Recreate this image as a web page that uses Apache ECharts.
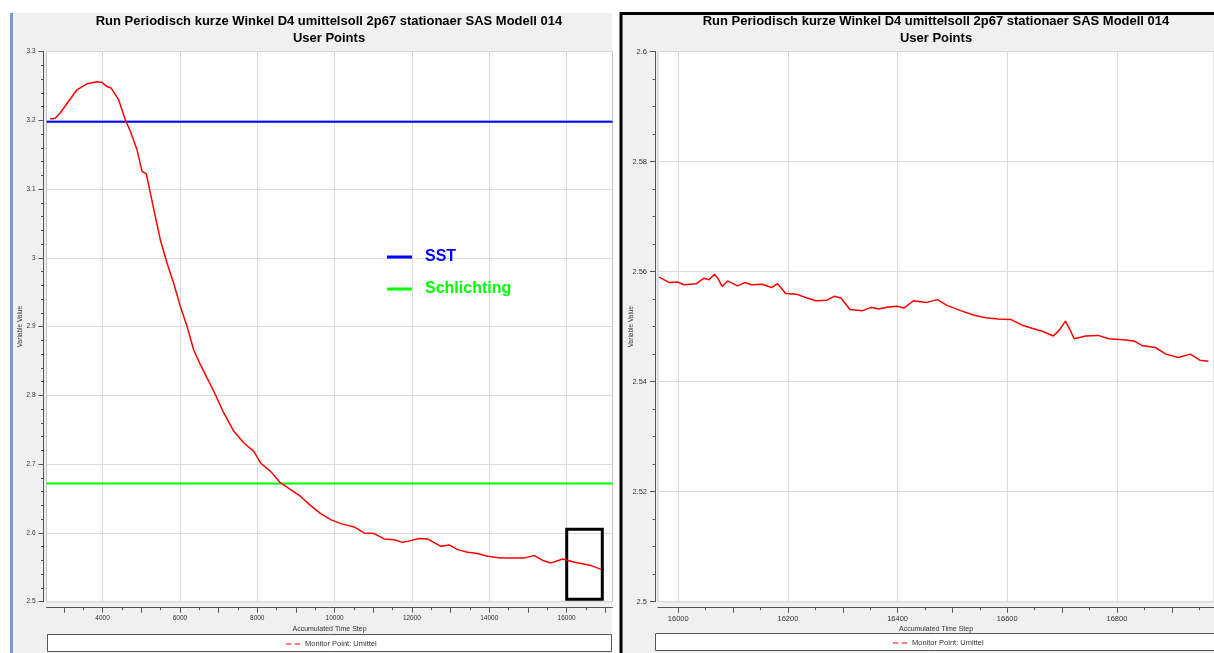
<!DOCTYPE html>
<html><head><meta charset="utf-8">
<script src="https://cdn.jsdelivr.net/npm/echarts@6/dist/echarts.min.js"></script>
<style>html,body{margin:0;padding:0;background:#fff}#c{width:1214px;height:653px}</style>
</head><body><div id="c"></div>
<script>
const chartTitle = 'Run Periodisch kurze Winkel D4 umittelsoll 2p67 stationaer SAS Modell 014';
const chartSubtitle = 'User Points';
const seriesName = 'Monitor Point: Umittel';
const xAxisName = 'Accumulated Time Step';
const yAxisName = 'Variable Value';

// left panel: full run
const leftTime = [2645,2775,2904,3119,3337,3596,3855,3984,4114,4218,4415,4588,4718,4891,5020,5132,5236,5365,5495,5668,5839,6013,6187,6357,6531,6705,6876,7135,7394,7653,7912,8085,8345,8604,8863,9122,9381,9640,9899,10158,10504,10763,11022,11281,11539,11757,11886,12187,12404,12749,12964,13181,13440,13699,13958,14303,14648,14907,15166,15383,15598,15901,16202,16376,16635,16894];
const leftValue = [3.2017,3.2030,3.2105,3.2273,3.2443,3.2530,3.2560,3.2550,3.2490,3.2470,3.2300,3.2007,3.1840,3.1570,3.1256,3.1220,3.0940,3.0600,3.0260,2.9920,2.9630,2.9290,2.9000,2.8660,2.8446,2.8250,2.8060,2.7744,2.7477,2.7308,2.7186,2.7017,2.6895,2.6727,2.6630,2.6530,2.6397,2.6280,2.6193,2.6135,2.6087,2.6000,2.5990,2.5913,2.5900,2.5863,2.5877,2.5920,2.5913,2.5805,2.5826,2.5757,2.5718,2.5700,2.5660,2.5637,2.5637,2.5637,2.5670,2.5600,2.5564,2.5622,2.5573,2.5554,2.5525,2.5470];

// right panel: zoomed end of run
const rightTime = [15965,15984,15999,16010,16033,16047,16056,16066,16072,16080,16090,16108,16121,16134,16153,16170,16181,16196,16215,16235,16251,16271,16284,16297,16313,16336,16352,16365,16381,16398,16412,16429,16453,16473,16489,16515,16538,16560,16583,16606,16626,16645,16665,16684,16696,16706,16714,16722,16743,16766,16785,16811,16831,16847,16870,16889,16912,16934,16951,16967];
const rightValue = [2.5590,2.5580,2.5581,2.5576,2.5578,2.5588,2.5585,2.5595,2.5588,2.5573,2.5583,2.5574,2.5580,2.5576,2.5577,2.5571,2.5578,2.5560,2.5559,2.5552,2.5547,2.5548,2.5555,2.5552,2.5531,2.5529,2.5535,2.5532,2.5535,2.5537,2.5534,2.5547,2.5544,2.5549,2.5539,2.5529,2.5521,2.5516,2.5514,2.5513,2.5503,2.5497,2.5491,2.5483,2.5495,2.5510,2.5495,2.5478,2.5483,2.5484,2.5478,2.5476,2.5474,2.5465,2.5462,2.5450,2.5444,2.5450,2.5439,2.5437];

const refNames = ['SST', 'Schlichting'];
const refValues = [3.198, 2.672];

const leftXRange = [2550, 17187];
const leftYRange = [2.5, 3.3];
const rightXRange = [15963, 16977];
const rightYRange = [2.5, 2.6];

const leftXLabels = [4000, 6000, 8000, 10000, 12000, 14000, 16000];
const leftXTicksMid = [3000, 5000, 7000, 9000, 11000, 13000, 15000, 17000];
const leftXTicksMinor = [3500, 4500, 5500, 6500, 7500, 8500, 9500, 10500, 11500, 12500, 13500, 14500, 15500, 16500];
const rightXLabels = [16000, 16200, 16400, 16600, 16800];
const rightXTicksMid = [16100, 16300, 16500, 16700, 16900];
const rightXTicksMinor = [16050, 16150, 16250, 16350, 16450, 16550, 16650, 16750, 16850, 16950];

const zoomBoxX = [16003, 16923];
const zoomBoxY = [2.5036, 2.6055];

const FONT = 'Liberation Sans';
const AX = '#555';
const GRIDC = '#dadada';
const DASH_ICON = 'path://M0,0 H5 V1 H0 Z M8,0 H13 V1 H8 Z';

function mainX(grid, range, labels, fs) {
  return {
    gridIndex: grid, type: 'value', position: 'bottom', min: range[0], max: range[1], offset: 6,
    axisLine: {show: true, lineStyle: {color: AX, width: 1}},
    axisTick: {show: true, customValues: labels, length: 5, lineStyle: {color: AX}},
    axisLabel: {customValues: labels, fontSize: fs, color: '#333', margin: 7, fontFamily: FONT, formatter: v => String(v)},
    splitLine: {show: true, lineStyle: {color: GRIDC, width: 1}},
    name: xAxisName, nameLocation: 'middle', nameGap: 18, nameMoveOverlap: false,
    nameTextStyle: {fontSize: 7, color: '#333', fontFamily: FONT}
  };
}
function tickX(grid, range, ticks, len) {
  return {
    gridIndex: grid, type: 'value', position: 'bottom', min: range[0], max: range[1], offset: 6,
    axisLine: {show: false}, axisLabel: {show: false}, splitLine: {show: false},
    axisTick: {show: true, customValues: ticks, length: len, lineStyle: {color: AX}}
  };
}
function mainY(grid, range, interval, minorSplit, fs, gap) {
  return {
    gridIndex: grid, type: 'value', min: range[0], max: range[1], interval: interval, offset: 3,
    axisLine: {show: true, lineStyle: {color: AX, width: 1}},
    axisTick: {show: true, length: 5, lineStyle: {color: AX}},
    minorTick: {show: true, splitNumber: minorSplit, length: 2.5, lineStyle: {color: AX}},
    axisLabel: {fontSize: fs, color: '#333', margin: 8, fontFamily: FONT},
    splitLine: {show: true, lineStyle: {color: GRIDC, width: 1}},
    name: yAxisName, nameLocation: 'middle', nameGap: gap, nameMoveOverlap: false,
    nameTextStyle: {fontSize: 6.5, color: '#333', fontFamily: FONT}
  };
}

const chart = echarts.init(document.getElementById('c'), null, {renderer: 'canvas'});
const refColors = ['#0000ff', '#00ff00'];

const option = {
  animation: false,
  backgroundColor: '#ffffff',
  graphic: [
    {type: 'rect', z: -10, shape: {x: 13, y: 13, width: 599, height: 645}, style: {fill: '#f0f0f0'}},
    {type: 'rect', z: -10, shape: {x: 10, y: 13, width: 3, height: 645}, style: {fill: '#7b9bd0'}},
    {type: 'rect', z: -10, shape: {x: 621, y: 13.5, width: 700, height: 700}, style: {fill: '#f0f0f0', stroke: '#000', lineWidth: 3}},
    {type: 'rect', z: 1, shape: {x: 47.5, y: 634.5, width: 564, height: 17}, style: {fill: '#fff', stroke: '#555', lineWidth: 1}},
    {type: 'rect', z: 1, shape: {x: 655.5, y: 633.5, width: 600, height: 17}, style: {fill: '#fff', stroke: '#555', lineWidth: 1}}
  ],
  title: [
    {text: chartTitle + '\n' + chartSubtitle, left: 329, top: 12.5, textAlign: 'center', padding: 0,
     textStyle: {fontSize: 13, fontWeight: 'bold', fontFamily: FONT, color: '#000', lineHeight: 17}},
    {text: chartTitle + '\n' + chartSubtitle, left: 936, top: 12.5, textAlign: 'center', padding: 0,
     textStyle: {fontSize: 13, fontWeight: 'bold', fontFamily: FONT, color: '#000', lineHeight: 17}}
  ],
  legend: [
    {data: refNames.map((n, i) => ({name: n, icon: 'rect', textStyle: {color: refColors[i]}})),
     orient: 'vertical', left: 387, top: 249, padding: 0, itemWidth: 25, itemHeight: 3, itemGap: 16,
     selectedMode: false,
     textStyle: {fontSize: 16, fontWeight: 'bold', fontFamily: FONT, padding: [0, 0, 0, 8]}},
    {data: [{name: seriesName, icon: DASH_ICON}], left: 286, top: 640, padding: 0, itemWidth: 14, itemHeight: 3, selectedMode: false,
     textStyle: {fontSize: 7.5, color: '#333', fontFamily: FONT}},
    {data: [{name: seriesName, icon: DASH_ICON}], left: 893, top: 639, padding: 0, itemWidth: 14, itemHeight: 3, selectedMode: false,
     textStyle: {fontSize: 7.5, color: '#333', fontFamily: FONT}}
  ],
  grid: [
    {left: 46.5, top: 51.5, width: 566, height: 550.2, show: true, backgroundColor: '#fff', borderColor: '#c4c4c4', borderWidth: 1},
    {left: 658, top: 51.5, width: 560, height: 550.2, show: true, backgroundColor: '#fff', borderColor: '#c4c4c4', borderWidth: 1}
  ],
  xAxis: [
    mainX(0, leftXRange, leftXLabels, 6.5),
    tickX(0, leftXRange, leftXTicksMid, 5),
    tickX(0, leftXRange, leftXTicksMinor, 2.5),
    mainX(1, rightXRange, rightXLabels, 7.5),
    tickX(1, rightXRange, rightXTicksMid, 5),
    tickX(1, rightXRange, rightXTicksMinor, 2.5)
  ],
  yAxis: [
    mainY(0, leftYRange, 0.1, 5, 6.5, 20),
    mainY(1, rightYRange, 0.02, 4, 7.5, 20)
  ],
  series: [
    {name: seriesName, type: 'line', xAxisIndex: 0, yAxisIndex: 0, symbol: 'none', showSymbol: false, z: 3,
     data: leftTime.map((t, i) => [t, leftValue[i]]),
     lineStyle: {color: '#ff0000', width: 1.5}, itemStyle: {color: '#ff0000'},
     markArea: {silent: true, itemStyle: {color: 'rgba(0,0,0,0)', borderColor: '#000', borderWidth: 3},
       data: [[{coord: [zoomBoxX[0], zoomBoxY[1]]}, {coord: [zoomBoxX[1], zoomBoxY[0]]}]]}},
    ...refNames.map((n, i) => ({
      name: n, type: 'line', xAxisIndex: 0, yAxisIndex: 0, symbol: 'none', showSymbol: false, z: 2,
      data: [[leftXRange[0], refValues[i]], [leftXRange[1], refValues[i]]],
      lineStyle: {color: refColors[i], width: 2}, itemStyle: {color: refColors[i]}
    })),
    {name: seriesName, type: 'line', xAxisIndex: 3, yAxisIndex: 1, symbol: 'none', showSymbol: false, z: 3,
     data: rightTime.map((t, i) => [t, rightValue[i]]),
     lineStyle: {color: '#ff0000', width: 1.5}, itemStyle: {color: '#ff0000'}}
  ]
};
chart.setOption(option);
</script>
</body></html>
